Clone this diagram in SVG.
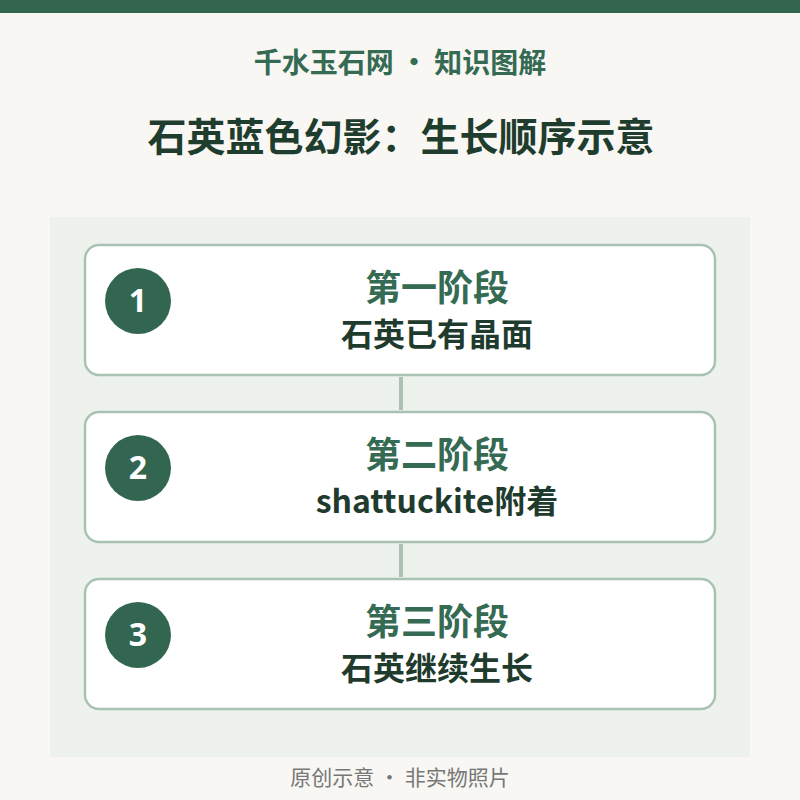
<svg xmlns="http://www.w3.org/2000/svg" width="800" height="800" viewBox="0 0 800 800">
<style>
.cjk{font-family:"Noto Sans CJK SC","Noto Sans",sans-serif;}
.box{fill:#ffffff;stroke:#a9c2b3;stroke-width:2.5;}
.num{fill:#326650;}
.numt{font-family:"Noto Sans","Open Sans",sans-serif;font-weight:700;font-size:32px;fill:#ffffff;text-anchor:middle;}
.st{font-weight:700;font-size:36px;fill:#356a53;text-anchor:middle;}
.sub{font-weight:700;font-size:32px;fill:#1f3b2d;text-anchor:middle;}
.conn{stroke:#a9c2b3;stroke-width:4;}
</style>
<rect width="800" height="800" fill="#f8f7f3"/>
<rect width="800" height="13" fill="#33664f"/>
<text class="cjk" x="400" y="73" text-anchor="middle" font-size="28" font-weight="700" fill="#356a53">千水玉石网 · 知识图解</text>
<text class="cjk" x="401" y="151" text-anchor="middle" font-size="39" font-weight="700" fill="#1f3d2e">石英蓝色幻影：生长顺序示意</text>
<rect x="50" y="217" width="700" height="540" fill="#edf2ed"/>
<g id="connectors">
<line class="conn" x1="401" y1="377" x2="401" y2="410"/>
<line class="conn" x1="401" y1="544" x2="401" y2="577"/>
</g>
<g id="stage1">
<rect class="box" x="85" y="245" width="630" height="130" rx="14"/>
<circle class="num" cx="138" cy="301" r="33"/>
<text class="numt" x="138" y="312">1</text>
<text class="cjk st" x="437" y="301">第一阶段</text>
<text class="cjk sub" x="437" y="346">石英已有晶面</text>
</g>
<g id="stage2">
<rect class="box" x="85" y="412" width="630" height="130" rx="14"/>
<circle class="num" cx="138" cy="468" r="33"/>
<text class="numt" x="138" y="479">2</text>
<text class="cjk st" x="437" y="468">第二阶段</text>
<text class="cjk sub" x="437" y="513">shattuckite附着</text>
</g>
<g id="stage3">
<rect class="box" x="85" y="579" width="630" height="130" rx="14"/>
<circle class="num" cx="138" cy="635" r="33"/>
<text class="numt" x="138" y="646">3</text>
<text class="cjk st" x="437" y="635">第三阶段</text>
<text class="cjk sub" x="437" y="680">石英继续生长</text>
</g>
<text class="cjk" x="400" y="785" text-anchor="middle" font-size="21" fill="#777777">原创示意 · 非实物照片</text>
</svg>
